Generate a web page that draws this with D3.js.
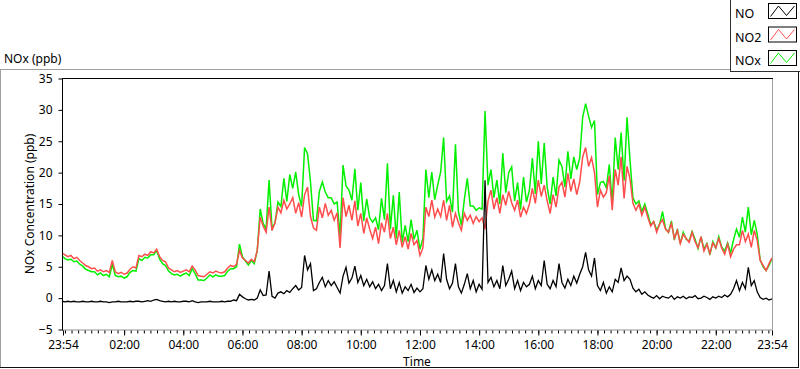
<!DOCTYPE html>
<html><head><meta charset="utf-8">
<script src="https://cdn.jsdelivr.net/npm/d3@7"></script>
<style>html,body{margin:0;padding:0;background:#fff;} svg{display:block;font-family:"Noto Sans",sans-serif;}</style>
</head><body><svg id="c" width="800" height="369"></svg>
<script>
// ---- data (6-minute samples starting 23:54) ----
const stepMinutes = 6;
const no = [
-0.5,-0.6,-0.5,-0.6,-0.5,-0.6,-0.6,-0.5,-0.6,-0.6,
-0.5,-0.6,-0.6,-0.5,-0.6,-0.6,-0.7,-0.6,-0.6,-0.5,
-0.6,-0.6,-0.6,-0.5,-0.6,-0.5,-0.5,-0.6,-0.5,-0.4,
-0.5,-0.3,-0.2,-0.4,-0.5,-0.6,-0.5,-0.6,-0.5,-0.6,
-0.6,-0.5,-0.5,-0.6,-0.4,-0.6,-0.7,-0.6,-0.6,-0.6,
-0.5,-0.6,-0.6,-0.6,-0.5,-0.6,-0.5,-0.5,-0.3,-0.4,
0.6,0.2,-0.1,-0.3,-0.2,-0.3,0.0,1.3,0.4,0.5,
4.3,0.3,0.0,0.8,1.0,0.7,1.2,0.9,1.5,2.0,
1.3,1.7,6.8,4.5,5.5,1.2,1.5,2.5,3.3,1.8,
2.8,2.0,2.6,1.7,0.8,3.5,4.9,2.4,3.2,5.1,
2.5,3.6,2.0,3.0,1.8,2.6,1.5,2.2,1.2,2.0,
5.5,1.5,2.8,1.0,2.5,0.8,1.8,1.2,2.2,0.9,
1.6,1.0,1.5,5.2,3.0,4.5,2.8,3.8,2.5,7.1,
3.0,1.5,2.4,5.5,1.8,0.8,2.2,3.9,1.5,2.8,
1.0,2.2,1.4,18.8,2.5,3.3,1.8,2.8,1.5,5.2,
2.0,3.0,4.3,1.5,2.8,1.2,2.5,1.8,2.2,3.5,
1.5,2.8,2.0,6.0,2.2,1.5,2.8,1.8,5.5,2.5,
1.6,3.0,2.0,3.5,2.4,3.8,5.0,7.3,4.5,3.5,
6.4,2.0,1.2,2.5,0.8,1.8,1.0,3.0,2.5,4.8,
2.8,3.5,3.0,1.6,1.0,1.4,0.6,1.0,0.5,0.2,
0.0,0.4,-0.1,0.3,0.1,0.0,0.4,-0.2,0.2,0.0,
0.3,-0.1,0.2,0.1,0.4,-0.1,0.0,0.3,0.1,-0.2,
0.2,0.0,0.3,0.1,0.5,0.2,0.6,1.5,2.8,1.2,
2.5,1.5,4.9,2.0,2.8,1.0,0.1,-0.2,0.0,-0.3,
-0.1];
const no2 = [
7.2,6.9,6.6,6.8,6.3,6.5,6.0,5.6,5.2,5.0,
4.7,4.8,4.3,4.5,4.2,4.4,4.1,6.0,4.2,3.9,
4.1,3.8,4.0,4.6,5.0,4.8,6.8,6.6,7.0,6.8,
7.4,7.2,7.8,6.6,6.0,5.8,4.8,4.5,4.2,4.4,
4.1,4.3,4.5,4.2,5.1,4.5,3.6,3.5,3.4,3.8,
4.2,4.0,4.3,4.1,4.0,4.2,4.8,5.2,5.0,5.4,
7.6,6.4,6.0,5.6,6.2,5.8,7.6,12.9,11.5,10.5,
14.5,10.8,12.0,14.5,13.6,15.6,14.2,15.0,16.0,13.5,
15.2,12.9,16.5,17.7,13.0,11.2,10.8,14.5,12.8,15.1,
13.2,14.0,12.4,13.6,8.0,16.0,13.0,14.8,12.4,15.5,
11.5,13.5,10.3,12.8,11.0,9.5,11.3,8.7,12.0,10.5,
13.5,9.5,11.3,8.5,10.8,8.1,9.8,7.8,10.3,8.5,
9.2,6.8,8.0,14.5,13.0,15.6,12.9,14.2,13.0,15.6,
12.4,14.8,11.3,13.5,12.0,10.8,13.5,12.4,13.2,11.9,
13.0,12.2,12.8,11.0,15.5,17.2,14.2,16.0,13.5,16.5,
14.8,17.0,15.2,14.0,15.6,12.9,14.5,13.5,15.0,17.5,
15.1,18.8,16.2,18.0,15.5,13.5,16.5,14.5,17.7,18.5,
16.1,19.9,17.0,19.0,16.5,18.5,22.5,24.0,21.0,22.4,
20.0,14.5,17.2,16.1,16.8,19.5,14.0,20.5,18.0,22.5,
15.9,21.0,19.0,15.1,14.0,15.0,13.2,14.5,12.9,11.5,
12.2,10.5,11.8,12.5,11.0,10.5,11.9,9.5,10.8,8.7,
10.2,9.5,8.9,10.5,9.0,8.0,9.8,7.5,8.6,7.1,
8.8,8.0,9.5,8.0,7.0,8.6,6.6,7.8,8.5,8.5,
10.8,9.0,10.2,8.1,10.8,9.2,6.0,5.2,4.4,5.5,
6.4];
const nox = [
6.7,6.3,6.1,6.2,5.8,5.9,5.4,5.1,4.6,4.4,
4.2,4.2,3.7,4.0,3.6,3.8,3.4,5.4,3.6,3.4,
3.5,3.2,3.4,4.1,4.4,4.3,6.3,6.0,6.5,6.4,
6.9,6.9,7.6,6.2,5.5,5.2,4.3,3.9,3.7,3.8,
3.5,3.8,4.0,3.6,4.7,3.9,2.9,2.9,2.8,3.2,
3.7,3.4,3.7,3.5,3.5,3.6,4.3,4.7,4.7,5.0,
8.6,6.6,5.9,5.3,6.0,5.5,7.6,14.2,11.9,11.0,
18.8,11.1,12.0,15.3,14.6,19.1,15.4,19.7,17.5,20.1,
16.5,14.6,24.0,23.0,18.5,12.4,12.3,17.0,18.5,16.9,
16.0,16.0,15.0,15.3,9.8,21.2,17.9,17.2,15.6,20.6,
14.0,18.4,12.3,15.8,12.8,12.1,12.8,10.9,15.9,12.5,
21.5,11.0,16.4,9.5,16.9,8.9,11.6,9.0,12.5,9.4,
10.8,7.8,9.5,20.5,16.0,20.1,15.7,18.0,20.1,25.6,
15.4,16.3,13.7,24.5,13.8,11.6,15.7,19.1,14.7,14.7,
14.0,14.4,14.2,29.8,18.0,20.5,16.0,18.8,15.0,23.1,
16.8,20.0,20.9,15.5,18.4,14.1,19.3,15.3,17.2,22.3,
16.6,25.0,18.2,24.7,17.7,15.0,19.3,16.3,22.0,21.0,
17.7,23.4,19.0,22.5,20.5,22.3,28.8,31.0,29.0,27.2,
28.3,16.5,18.4,18.6,17.6,21.3,15.0,25.6,20.5,26.4,
18.7,28.8,22.0,16.0,15.0,15.5,13.8,15.0,13.4,11.7,
12.2,10.9,11.7,13.8,11.1,10.5,12.3,9.3,11.0,8.7,
10.5,9.4,9.1,10.6,9.4,7.9,9.8,7.8,8.7,6.9,
9.0,8.0,9.8,8.1,7.5,8.8,7.2,9.3,11.0,9.7,
12.9,10.5,14.5,10.1,12.4,10.2,6.1,5.0,4.4,5.2,
6.3];
const seriesNames = ["NO", "NO2", "NOx"];
const yTickValues = [-5, 0, 5, 10, 15, 20, 25, 30, 35];
const xTickLabels = ["23:54","02:00","04:00","06:00","08:00","10:00","12:00","14:00","16:00","18:00","20:00","22:00","23:54"];
const chartTitle = "NOx (ppb)";
const yTitle = "NOx Concentration (ppb)";
const xTitle = "Time";

(function () {
// ---- styles ----
const colors = {"NO": "#000000", "NO2": "#ff4d4d", "NOx": "#00f000"};
const widths = {"NO": 1.3, "NO2": 1.5, "NOx": 1.5};
const svg = d3.select("#c");
const W = 800, H = 369;
const pL = 62, pR = 772, pT = 78.5, pB = 329.5;

const start = new Date(2000, 0, 1, 23, 54);
const end = new Date(2000, 0, 2, 23, 54);
const x = d3.scaleTime().domain([start, end]).range([pL, pR]);
const y = d3.scaleLinear().domain([-5, 35]).range([pB, pT]);

function labelToDate(lbl, i) {
  if (i === 0) return start;
  if (i === xTickLabels.length - 1) return end;
  const [hh, mm] = lbl.split(":").map(Number);
  return new Date(2000, 0, 2, hh, mm);
}
const majorDates = xTickLabels.map(labelToDate);
const minorDates = [];
for (let t = new Date(2000, 0, 2, 0, 0).getTime(); t < end.getTime(); t += 800 * 1000) minorDates.push(new Date(t));

svg.append("rect").attr("width", W).attr("height", H).attr("fill", "#fff");

// outer frame
svg.append("line").attr("x1", 0).attr("x2", 731).attr("y1", 69.5).attr("y2", 69.5).attr("stroke", "#a0a0a0");
svg.append("line").attr("x1", 0.5).attr("x2", 0.5).attr("y1", 69.5).attr("y2", 367).attr("stroke", "#a0a0a0");
svg.append("line").attr("x1", 0).attr("x2", 799).attr("y1", 367.5).attr("y2", 367.5).attr("stroke", "#101010");
svg.append("line").attr("x1", 798.5).attr("x2", 798.5).attr("y1", 72).attr("y2", 368).attr("stroke", "#101010");

// title
svg.append("text").attr("x", 4).attr("y", 63).attr("font-size", 12).attr("fill", "#000").text(chartTitle);

// plot box
svg.append("line").attr("x1", pR + 0.5).attr("x2", pR + 0.5).attr("y1", pT).attr("y2", pB).attr("stroke", "#a0a0a0");
svg.append("line").attr("x1", pL).attr("x2", pR + 1).attr("y1", pB + 0.5).attr("y2", pB + 0.5).attr("stroke", "#909090");
svg.append("line").attr("x1", pL).attr("x2", pR + 1).attr("y1", pT).attr("y2", pT).attr("stroke", "#000");

// clip
svg.append("clipPath").attr("id", "clip").append("rect")
  .attr("x", pL + 1).attr("y", pT).attr("width", pR - pL - 1).attr("height", pB - pT);

const times = no.map((_, i) => new Date(start.getTime() + i * stepMinutes * 60000));
const line = d3.line().x((d, i) => x(times[i])).y(d => y(d));
const g = svg.append("g").attr("clip-path", "url(#clip)");
[["NOx", nox], ["NO2", no2], ["NO", no]].forEach(([name, arr]) => {
  g.append("path").datum(arr).attr("d", line).attr("fill", "none")
    .attr("stroke", colors[name]).attr("stroke-width", widths[name]).attr("stroke-linejoin", "miter");
});

// y axis
const yAxis = svg.append("g").attr("transform", `translate(${pL + 0.5},0)`)
  .call(d3.axisLeft(y).tickValues(yTickValues).tickSize(4).tickSizeOuter(0).tickPadding(6).tickFormat(d3.format("d")));
yAxis.select(".domain").attr("stroke", "#000").attr("d", `M0,${pT}V${pB + 1}`);
yAxis.selectAll("text").attr("font-size", 12).attr("font-family", "Noto Sans").attr("fill", "#000");

// x axis minor ticks
svg.append("g").attr("transform", `translate(0,${pB + 1})`)
  .call(d3.axisBottom(x).tickValues(minorDates).tickSize(3).tickFormat(""))
  .call(s => s.select(".domain").remove());
const xAxis = svg.append("g").attr("transform", `translate(0,${pB + 1})`)
  .call(d3.axisBottom(x).tickValues(majorDates).tickSize(5).tickPadding(5).tickFormat((d, i) => xTickLabels[i]));
xAxis.select(".domain").remove();
xAxis.selectAll("text").attr("font-size", 12).attr("font-family", "Noto Sans").attr("fill", "#000");
xAxis.selectAll(".tick").filter((d, i) => i === 0).attr("transform", `translate(${pL + 1.5},0)`);

// axis titles
svg.append("text").attr("x", 417).attr("y", 366).attr("text-anchor", "middle").attr("font-size", 12).text(xTitle);
svg.append("text").attr("transform", "translate(34,204) rotate(-90)").attr("text-anchor", "middle")
  .attr("font-size", 12).text(yTitle);

// legend
const lg = svg.append("g");
lg.append("rect").attr("x", 730.5).attr("y", -1).attr("width", 75).attr("height", 72.5)
  .attr("fill", "#fff").attr("stroke", "#303030");
seriesNames.forEach((name, i) => {
  const by = 18 + i * 23.5;
  lg.append("text").attr("x", 735).attr("y", by).attr("font-size", 12.5).attr("fill", "#000").text(name);
  const sx = 768.5, sy = by - 14.5;
  lg.append("rect").attr("x", sx).attr("y", sy).attr("width", 28).attr("height", 15)
    .attr("fill", "#fff").attr("stroke", "#000");
  lg.append("polyline")
    .attr("points", [[sx + 2, sy + 13], [sx + 10, sy + 2.5], [sx + 18, sy + 12], [sx + 26, sy + 2.5]].map(p => p.join(",")).join(" "))
    .attr("fill", "none").attr("stroke", colors[name]).attr("stroke-width", 1);
});
})();
</script></body></html>
